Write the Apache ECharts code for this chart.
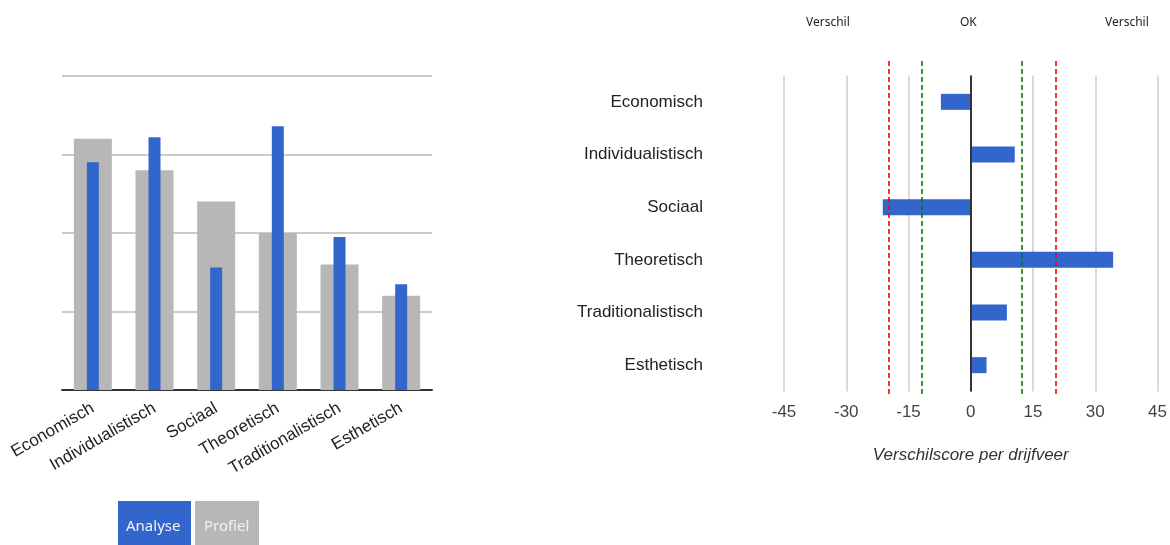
<!DOCTYPE html>
<html>
<head>
<meta charset="utf-8">
<script src="https://cdn.jsdelivr.net/npm/echarts@6/dist/echarts.min.js"></script>
<style>
  html, body { margin: 0; padding: 0; background: #fff; }
  #chart { width: 1170px; height: 545px; }
</style>
</head>
<body>
<div id="chart"></div>
<script>
// drijfveren
const categories = ['Economisch', 'Individualistisch', 'Sociaal', 'Theoretisch', 'Traditionalistisch', 'Esthetisch']
const analyse = [72.5, 80.5, 39, 84, 48.7, 33.7]
const profiel = [80, 70, 60, 50, 40, 30]
// verschilscore (analyse - profiel)
const verschil = [-7.2, 10.6, -21.2, 34.3, 8.7, 3.8]
const diffTicks = [-45, 45, 15]   // min, max, interval
const okBand = 12
const diffBand = 20

const BLUE = '#3366cc'
const GRAY = '#b7b7b7'
const LABEL_FONT = '"Liberation Sans", Arial, sans-serif'
const UI_FONT = '"Noto Sans", "Open Sans", sans-serif'

let chart = echarts.init(document.getElementById('chart'))

let option = {
  animation: false,
  grid: [
    {left: 62, right: 738, top: 76, bottom: 155},
    {left: 784, right: 10, top: 75.5, bottom: 153.5},
    {left: 784, right: 10, top: 61, bottom: 151}
  ],
  xAxis: [
    {
      type: 'category', gridIndex: 0, data: categories,
      axisTick: {show: false},
      axisLine: {lineStyle: {color: '#333', width: 2}},
      axisLabel: {
        interval: 0, rotate: 30, margin: 17,
        fontFamily: LABEL_FONT, fontSize: 17, color: '#222'
      }
    },
    {type: 'category', gridIndex: 0, data: categories, show: false},
    {
      type: 'value', gridIndex: 1,
      min: diffTicks[0], max: diffTicks[1], interval: diffTicks[2],
      axisLine: {show: false}, axisTick: {show: false},
      splitLine: {lineStyle: {color: '#ccc', width: 1.5}},
      axisLabel: {margin: 12, fontFamily: LABEL_FONT, fontSize: 17, color: '#444'},
      name: 'Verschilscore per drijfveer',
      nameLocation: 'middle', nameGap: 55,
      nameTextStyle: {fontFamily: LABEL_FONT, fontSize: 17, fontStyle: 'italic', color: '#333'}
    },
    {type: 'value', gridIndex: 2, min: diffTicks[0], max: diffTicks[1], show: false}
  ],
  yAxis: [
    {
      type: 'value', gridIndex: 0, min: 0, max: 100, interval: 25,
      axisLabel: {show: false}, axisLine: {show: false}, axisTick: {show: false},
      splitLine: {lineStyle: {color: '#ccc', width: 2}}
    },
    {
      type: 'category', gridIndex: 1, data: categories, inverse: true,
      axisLine: {show: false}, axisTick: {show: false},
      axisLabel: {margin: 81, fontFamily: LABEL_FONT, fontSize: 17, color: '#222'}
    },
    {type: 'value', gridIndex: 2, min: 0, max: 1, show: false}
  ],
  series: [
    {
      name: 'Profiel', type: 'bar', xAxisIndex: 0, yAxisIndex: 0,
      barWidth: 38, data: profiel, itemStyle: {color: GRAY}
    },
    {
      name: 'Analyse', type: 'bar', xAxisIndex: 1, yAxisIndex: 0,
      barWidth: 12, data: analyse, itemStyle: {color: BLUE}
    },
    {
      name: 'Verschil', type: 'bar', xAxisIndex: 2, yAxisIndex: 1,
      barWidth: 16, data: verschil, itemStyle: {color: BLUE},
      markLine: {
        silent: true, symbol: 'none', label: {show: false},
        lineStyle: {color: '#333', width: 2, type: 'solid'},
        data: [{xAxis: 0}]
      }
    },
    {
      name: 'grenzen', type: 'line', xAxisIndex: 3, yAxisIndex: 2, data: [], z: 5,
      markLine: {
        silent: true, symbol: 'none', label: {show: false},
        data: [
          {xAxis: -diffBand, lineStyle: {color: '#ff0000', width: 1.6, type: [5, 3]}},
          {xAxis: diffBand, lineStyle: {color: '#ff0000', width: 1.6, type: [5, 3]}},
          {xAxis: -okBand, lineStyle: {color: '#008000', width: 1.6, type: [5, 3]}},
          {xAxis: okBand, lineStyle: {color: '#008000', width: 1.6, type: [5, 3]}}
        ]
      }
    }
  ],
  graphic: [
    {type: 'text', left: 806, top: 17, style: {text: 'Verschil', font: '12px ' + UI_FONT, fill: '#222'}},
    {type: 'text', left: 960, top: 17, style: {text: 'OK', font: '12px ' + UI_FONT, fill: '#222'}},
    {type: 'text', left: 1105, top: 17, style: {text: 'Verschil', font: '12px ' + UI_FONT, fill: '#222'}},
    // legend buttons
    {
      type: 'rect', left: 118, top: 501, shape: {width: 73, height: 50}, style: {fill: BLUE}
    },
    {
      type: 'text', left: 126, top: 519, style: {text: 'Analyse', font: '15px ' + UI_FONT, fill: '#f2f2f2'}
    },
    {
      type: 'rect', left: 195, top: 501, shape: {width: 64, height: 50}, style: {fill: GRAY}
    },
    {
      type: 'text', left: 204, top: 519, style: {text: 'Profiel', font: '15px ' + UI_FONT, fill: '#f2f2f2'}
    }
  ]
}

chart.setOption(option)
</script>
</body>
</html>
